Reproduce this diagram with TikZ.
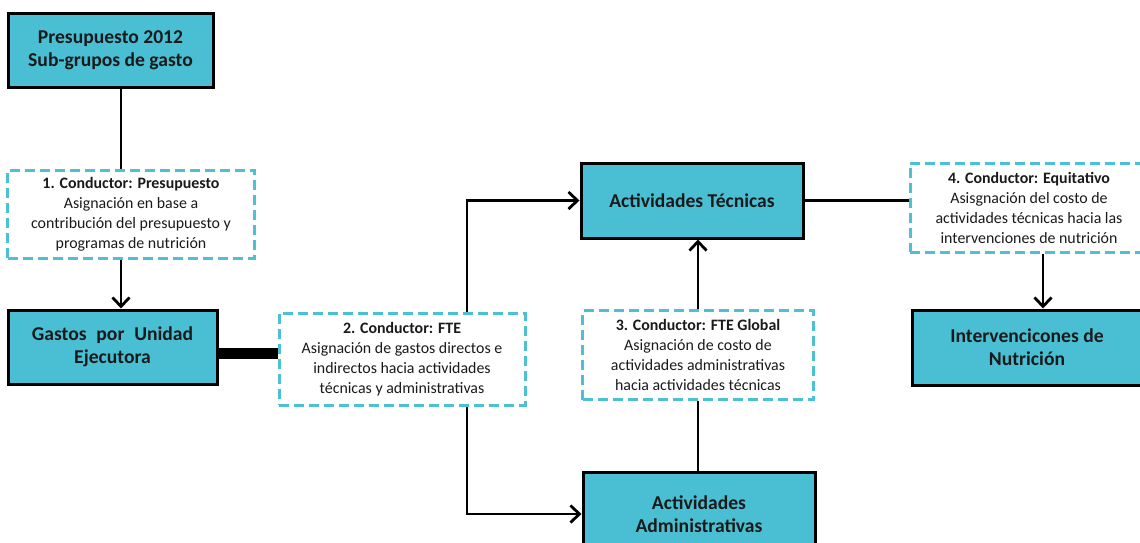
\documentclass[tikz,border=0pt]{standalone}
\usepackage{fontspec}
\setmainfont{Carlito}
\usetikzlibrary{arrows.meta,positioning,calc}
\definecolor{boxfill}{HTML}{4ABFD4}
\definecolor{dashcol}{HTML}{4DC0D6}
\definecolor{txt}{HTML}{1A1A1A}
\tikzset{
  mainbox/.style={draw=black, line width=3pt, fill=boxfill, align=center, text=txt,
    font=\fontsize{19.6}{23}\selectfont\bfseries, inner sep=0pt},
  drvbox/.style={draw=dashcol, line width=3pt, dash pattern=on 10pt off 5pt, fill=white,
    align=center, text=txt, font=\fontsize{15.9}{20}\selectfont, inner sep=0pt},
  conn/.style={draw=black, line width=2.4pt},
  arr/.style={conn, -{Straight Barb[length=9pt,width=17pt,line width=2.8pt]}}
}
\begin{document}
\begin{tikzpicture}[x=1pt,y=-1pt]
\clip (0,0) rectangle (1140,542);
\fill[white] (0,0) rectangle (1140,542);

\node[mainbox, minimum width=205pt, minimum height=74pt] (pres) at (110.5,50)
  {Presupuesto 2012\\Sub-grupos de gasto};
\node[mainbox, minimum width=209pt, minimum height=74pt] (gastos) at (112.5,347)
  {Gastos\hspace{0.5em}por\hspace{0.5em}Unidad\\Ejecutora};
\node[mainbox, minimum width=222pt, minimum height=75pt] (tec) at (692,200.5)
  {Actividades Técnicas};
\node[mainbox, minimum width=232pt, minimum height=84pt] (adm) at (699,514)
  {Actividades\\Administrativas};
\node[mainbox, minimum width=230pt, minimum height=75pt] (int) at (1027,347.5)
  {Intervencicones de\\Nutrición};

\node[drvbox, minimum width=247pt, minimum height=88pt] (d1) at (131,214)
  {\textbf{1. Conductor: Presupuesto}\\Asignación en base a\\contribución del presupuesto y\\programas de nutrición};
\node[drvbox, minimum width=246pt, minimum height=92pt] (d2) at (402,359)
  {\textbf{2. Conductor: FTE}\\Asignación de gastos directos e\\indirectos hacia actividades\\técnicas y administrativas};
\node[drvbox, minimum width=231pt, minimum height=89pt] (d3) at (698,355)
  {\textbf{3. Conductor: FTE Global}\\Asignación de costo de\\actividades administrativas\\hacia actividades técnicas};
\node[drvbox, minimum width=238pt, minimum height=89pt] (d4) at (1029,207.5)
  {\textbf{4. Conductor: Equitativo}\\Asisgnación del costo de\\actividades técnicas hacia las\\intervenciones de nutrición};

% connectors
\draw[conn] ([xshift=10.5pt]pres.south) -- ([xshift=10.5pt]pres.south |- d1.north);
\draw[arr] ([xshift=-10pt]d1.south) -- ([xshift=-10pt]d1.south |- gastos.north);
\draw[draw=black, line width=11pt] ([yshift=-6pt]gastos.east) -- ([yshift=-6pt]gastos.east -| d2.west);
\draw[arr] ([xshift=65pt]d2.north) |- (tec.west);
\draw[arr] ([xshift=65pt]d2.south) |- (adm.west);
\draw[arr] (d3.north) -- (d3.north |- tec.south);
\draw[conn] (d3.south) -- (d3.south |- adm.north);
\draw[conn] (tec.east) -- (tec.east -| d4.west);
\draw[arr] ([xshift=14pt]d4.south) -- ([xshift=14pt]d4.south |- int.north);
\end{tikzpicture}
\end{document}
